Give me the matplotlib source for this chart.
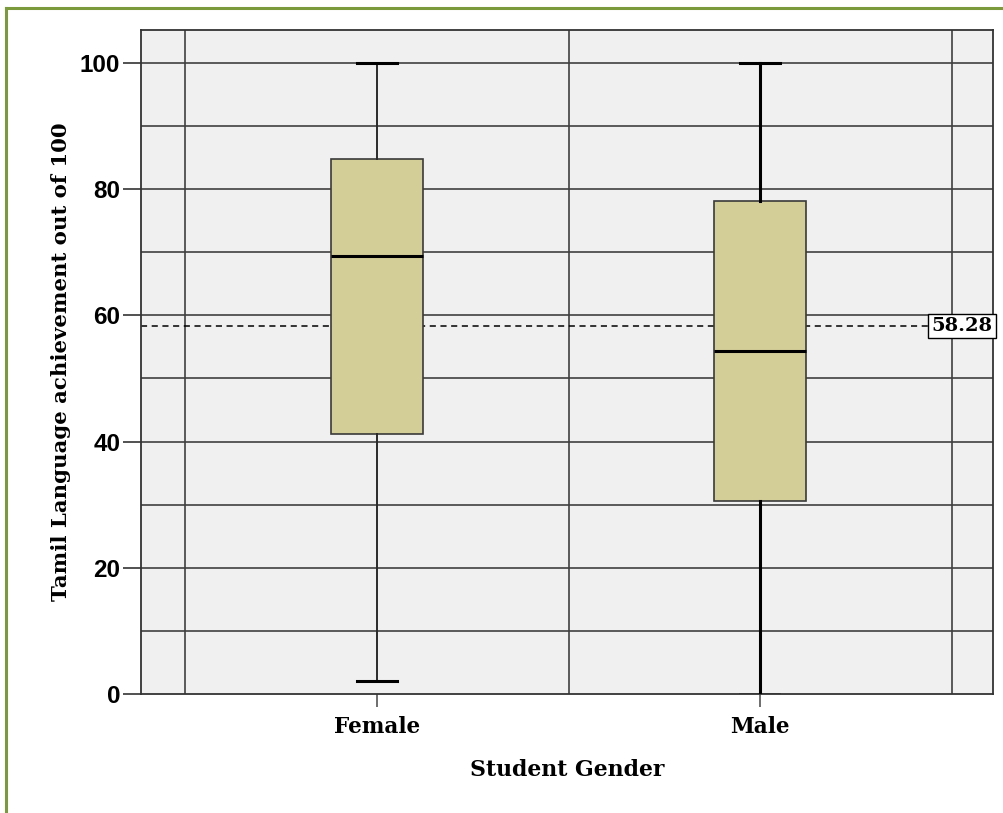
import matplotlib
matplotlib.use("Agg")
import matplotlib.pyplot as plt
from matplotlib.lines import Line2D

# values
genders = ["Female", "Male"]
whisker_low = [2.1, 0.0]
q1 = [41.2, 30.6]
medians = [69.4, 54.4]
q3 = [84.8, 78.1]
whisker_high = [100.0, 100.0]
overall_mean = 58.28
y_ticks = [0, 20, 40, 60, 80, 100]

fig = plt.figure(figsize=(10.04, 8.13), dpi=100)
ax = fig.add_axes([141 / 1004, 119 / 813, 852 / 1004, 664 / 813])
ax.set_facecolor("#f0f0f0")

stats = []
for i, g in enumerate(genders):
    stats.append({"label": g, "whislo": whisker_low[i], "q1": q1[i], "med": medians[i],
                  "q3": q3[i], "whishi": whisker_high[i], "fliers": []})

# grid first so boxes sit on top
for y in range(10, 101, 10):
    ax.axhline(y, color="#404040", lw=1.2, zorder=1)
for x in [-0.5, 0.5, 1.5]:
    ax.axvline(x, color="#404040", lw=1.2, zorder=1)

bp = ax.bxp(stats, positions=[0, 1], widths=0.238, patch_artist=True, showfliers=False,
            boxprops=dict(facecolor="#d3cd98", edgecolor="#3a3a3a", lw=1.2),
            medianprops=dict(color="black", lw=2.2),
            whiskerprops=dict(color="#2a2a2a", lw=1.4),
            capprops=dict(color="black", lw=2.2),
            capwidths=0.104, zorder=3)
# male whiskers look heavier in the original
for w in bp["whiskers"][2:]:
    w.set_linewidth(2.2)
    w.set_color("black")
# a cap sitting on the axis line is hidden by the spine
for c in bp["caps"]:
    if c.get_ydata()[0] == 0:
        c.set_zorder(1)
        c.set_linewidth(1.2)
        c.set_color("#333333")

ax.axhline(overall_mean, color="black", lw=1.1, ls=(0, (4, 3)), zorder=2)
ax.text(0.9995, overall_mean, f"{overall_mean:.2f}", transform=ax.get_yaxis_transform(),
        ha="right", va="center", fontsize=14, fontweight="bold", family="DejaVu Serif",
        bbox=dict(facecolor="white", edgecolor="black", lw=1, pad=2.2), zorder=5)

ax.set_xlim(-0.616, 1.608)
ax.set_ylim(0, 105.2)
ax.set_yticks(y_ticks)
ax.set_yticklabels([str(t) for t in y_ticks], fontsize=17.5, fontweight="bold",
                   family="Liberation Sans")
ax.set_xticks([0, 1])
ax.set_xticklabels(genders, fontsize=15.5, fontweight="bold", family="DejaVu Serif")
ax.tick_params(axis="y", length=13, width=1.2, color="#333333", pad=2)
ax.tick_params(axis="x", length=9, width=1.2, color="#555555", pad=7)
for s in ax.spines.values():
    s.set_color("#333333")
    s.set_linewidth(1.3)

ax.set_ylabel("Tamil Language achievement out of 100", fontsize=15.3, fontweight="bold",
              family="DejaVu Serif", labelpad=6)
ax.set_xlabel("Student Gender", fontsize=15.8, fontweight="bold", family="DejaVu Serif",
              labelpad=15)

# olive frame on top and left edges
fig.add_artist(Line2D([6 / 1004, 1], [1 - 8 / 813, 1 - 8 / 813], color="#7a9a3c", lw=2.2,
                      transform=fig.transFigure))
fig.add_artist(Line2D([6 / 1004, 6 / 1004], [0, 1 - 8 / 813], color="#7a9a3c", lw=2.2,
                      transform=fig.transFigure))

fig.savefig("out.png", dpi=100, facecolor="white")
